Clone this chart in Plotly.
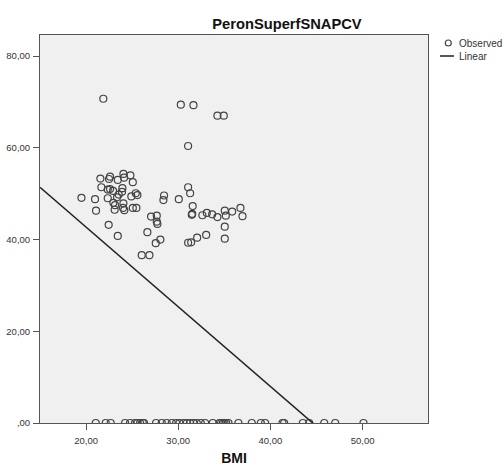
import plotly.graph_objects as go
import numpy as np

# Observed points (BMI, PeronSuperfSNAPCV)
bmi_obs = [21.87, 30.28, 31.65, 34.25, 34.94, 31.07,
           21.55, 22.60, 22.49, 23.44, 24.05, 24.12, 24.81, 25.07,
           21.66, 22.35, 22.60, 22.93, 23.94, 23.90, 23.54, 23.36, 22.35, 20.97,
           22.96, 23.14, 23.10, 24.05, 24.01, 24.15, 24.91, 25.39, 25.57, 25.07,
           25.46, 21.08, 19.50, 22.45, 23.44,
           26.65, 26.04, 26.87, 27.56, 28.06, 27.05, 27.67, 27.67, 27.74,
           28.46, 28.39, 30.06, 31.07, 31.29, 31.57, 31.47, 31.52,
           32.62, 33.10, 33.68, 34.25, 35.05, 35.16, 35.85, 36.75, 36.97,
           35.05, 35.05, 33.03, 32.05, 31.40, 31.07]
val_obs = [70.7, 69.4, 69.3, 67.0, 67.0, 60.4,
           53.3, 53.7, 53.2, 53.0, 54.3, 53.5, 54.0, 52.5,
           51.4, 50.9, 51.0, 50.6, 51.2, 50.4, 49.8, 49.2, 49.0, 48.8,
           48.0, 47.5, 46.5, 47.9, 46.9, 46.4, 49.4, 50.1, 49.7, 46.9,
           46.9, 46.3, 49.1, 43.2, 40.8,
           41.6, 36.6, 36.6, 39.2, 40.0, 45.0, 45.2, 43.9, 43.4,
           49.6, 48.6, 48.8, 51.4, 50.1, 47.3, 45.4, 45.6,
           45.3, 45.8, 45.5, 44.9, 46.3, 45.2, 46.1, 46.9, 45.1,
           42.8, 40.2, 41.0, 40.4, 39.4, 39.3]

# Observed points at zero
bmi_zero = [21.05, 22.13, 22.67, 24.23, 24.77, 25.31, 25.57, 25.86, 26.15, 26.29,
            27.59, 28.21, 28.75, 29.30, 29.77, 30.13, 30.56, 30.93, 31.29, 31.65,
            32.01, 32.45, 32.92, 33.75, 34.47, 34.65, 34.84, 35.01, 35.20, 35.45,
            36.53, 37.98, 38.96, 39.43, 41.31, 41.49, 43.52, 44.21, 45.84, 47.03,
            50.10]
val_zero = [0.0] * len(bmi_zero)

# Linear fit coefficients
fit_intercept = 77.45
fit_slope = -1.737

x_range = [15.0, 57.1]
y_range = [0.0, 84.6]

x_tick_vals = [20, 30, 40, 50]
x_tick_labels = ["20,00", "30,00", "40,00", "50,00"]
y_tick_vals = [0, 20, 40, 60, 80]
y_tick_labels = [",00", "20,00", "40,00", "60,00", "80,00"]

legend_labels = ["Observed", "Linear"]

x_all = bmi_obs + bmi_zero
y_all = val_obs + val_zero

fit_x = np.array(x_range)
fit_y = fit_intercept + fit_slope * fit_x

FONT = "Arial, Liberation Sans, sans-serif"
MARK = "#444444"

# plot area geometry (px)
L, R, T, B = 40, 428, 35, 423
W, H = R - L, B - T


def px_x(p):
    return (p - L) / W


def px_y(p):
    return (B - p) / H


fig = go.Figure()
fig.add_trace(go.Scatter(
    x=x_all, y=y_all, mode="markers", name=legend_labels[0],
    marker=dict(symbol="circle-open", size=7, color=MARK,
                line=dict(width=1.2, color=MARK)),
    cliponaxis=True, showlegend=False,
))
fig.add_trace(go.Scatter(
    x=fit_x, y=fit_y, mode="lines", name=legend_labels[1],
    line=dict(color="#222222", width=1.5), showlegend=False,
))

# manual legend (SPSS style, compact)
leg_text_x = px_x(457)
row_y = [px_y(43), px_y(56)]
fig.add_shape(type="circle", xref="paper", yref="paper",
              x0=px_x(445.3), x1=px_x(451.3), y0=row_y[0] - 3 / H, y1=row_y[0] + 3 / H,
              line=dict(color=MARK, width=1.2))
fig.add_shape(type="line", xref="paper", yref="paper",
              x0=px_x(440), x1=px_x(454), y0=row_y[1], y1=row_y[1],
              line=dict(color="#222222", width=1.5))
for lab, yy in zip(legend_labels, row_y):
    fig.add_annotation(text=lab, xref="paper", yref="paper", x=leg_text_x, y=yy,
                       xanchor="left", yanchor="middle", showarrow=False,
                       font=dict(size=10, color="#333333", family=FONT))

fig.update_layout(
    width=504, height=466,
    margin=dict(l=L, r=504 - R, t=T, b=466 - B, autoexpand=False),
    paper_bgcolor="white",
    plot_bgcolor="#f0f0f0",
    font=dict(family=FONT, size=9.5, color="#333333"),
    title=dict(text="<b>PeronSuperfSNAPCV</b>", x=px_x(287), xref="paper",
               xanchor="center", y=1 - 24 / 466, yref="container", yanchor="middle",
               font=dict(size=14.7, color="#111111", family=FONT)),
    showlegend=False,
    xaxis=dict(range=x_range, tickvals=x_tick_vals, ticktext=x_tick_labels,
               showgrid=False, zeroline=False, showline=True, mirror=True,
               linecolor="#555555", linewidth=1, ticks="outside", ticklen=6,
               tickcolor="#555555", ticklabelstandoff=3,
               title=dict(text="<b>BMI</b>", font=dict(size=14, color="#111111"), standoff=13)),
    yaxis=dict(range=y_range, tickvals=y_tick_vals, ticktext=y_tick_labels,
               showgrid=False, zeroline=False, showline=True, mirror=True,
               linecolor="#555555", linewidth=1, ticks="outside", ticklen=6,
               tickcolor="#555555", ticklabelstandoff=1),
)

fig.write_html("out.html")
